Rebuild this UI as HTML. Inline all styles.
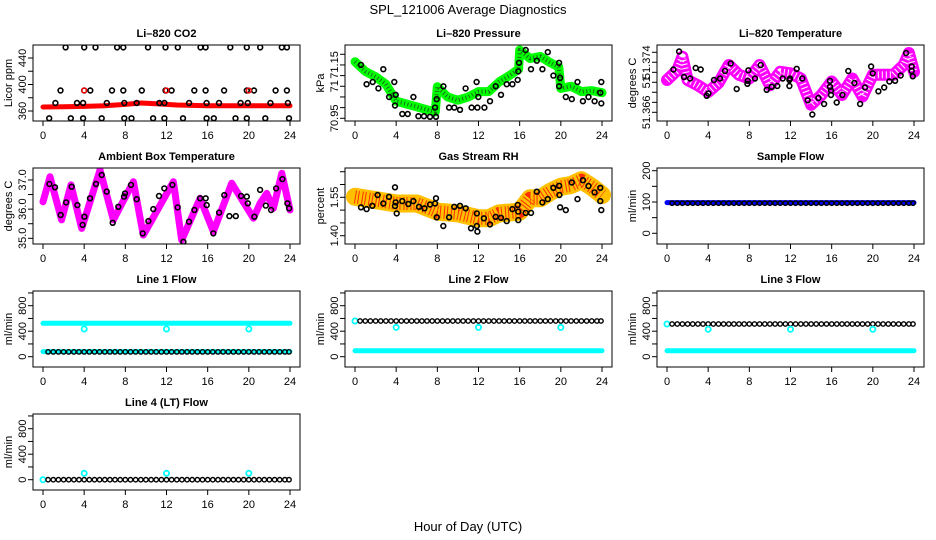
<!DOCTYPE html>
<html><head><meta charset="utf-8"><title>SPL_121006 Average Diagnostics</title>
<style>
html,body{margin:0;padding:0;background:#fff;}
svg{display:block;font-family:"Liberation Sans",Arial,sans-serif;}
</style></head>
<body>
<svg id="chart" xmlns="http://www.w3.org/2000/svg" width="936" height="540" viewBox="0 0 936 540">
<rect x="0" y="0" width="936" height="540" fill="#fff"/>
<text x="468" y="14" text-anchor="middle" font-size="13">SPL_121006  Average Diagnostics</text>
<text x="468" y="531" text-anchor="middle" font-size="13">Hour of Day (UTC)</text>
</svg>
<script>
// ---------- data ----------
const xTicks = [0,4,8,12,16,20,24];
const flowHours = [0.5,1,1.5,2,2.5,3,3.5,4,4.5,5,5.5,6,6.5,7,7.5,8,8.5,9,9.5,10,10.5,11,11.5,12,12.5,13,13.5,14,14.5,15,15.5,16,16.5,17,17.5,18,18.5,19,19.5,20,20.5,21,21.5,22,22.5,23,23.5,23.9];
const bandEnds = [0,24];
const dailyCheckHours = [4,12,20];

// Li-820 CO2
const co2BandH = [0,2,4,6,8,9.5,11,13,16,20,24];
const co2BandV = [366,366.5,367,368,370,372,371,369,368,368,368];
const co2PtH = [2.2,4.0,5.1,7.2,7.8,10.2,11.9,13.1,15.3,15.8,18.2,19.8,21.1,23.2,23.7,
 1.7,4.0,4.6,6.7,7.8,9.6,11.9,12.5,14.7,15.8,17.6,19.8,20.5,22.6,23.7,
 0.6,2.7,3.9,5.7,7.9,8.6,10.7,11.8,13.6,15.9,16.6,18.7,19.8,21.6,23.9,
 1.2,3.3,3.9,6.2,7.9,9.1,11.3,11.8,14.2,15.9,17.1,19.2,19.9,22.1,23.8];
const co2PtV = [456,456,456,456,456,456,456,456,456,456,456,456,456,456,456,
 391,391,391,391,391,391,391,391,391,391,391,391,391,391,391,
 349,349,349,349,349,349,349,349,349,349,349,349,349,349,349,
 372,372,372,372,372,372,372,372,372,372,372,372,372,372,372];
const co2RedH = [4,12,20];
const co2RedV = [391,391,391];

// Li-820 Pressure
const presBandH = [0,1,2,3,4,5,6,7,7.8,8,9,10,11,12,13,14,15,15.9,16,17,18,19,19.8,20,21,22,23,24];
const presBandV = [71.215,71.17,71.145,71.11,71.03,71.017,71.004,70.99,70.98,71.098,71.05,71.035,71.05,71.075,71.075,71.12,71.15,71.18,71.27,71.23,71.24,71.21,71.19,71.09,71.1,71.075,71.08,71.07];
const presPtH = [0.58,1.13,1.72,2.27,2.75,3.31,3.82,3.95,3.89,4.6,5.12,5.67,6.16,6.7,7.29,7.77,7.87,7.94,8.59,9.14,9.65,10.2,10.75,11.33,11.82,11.89,11.98,12.57,13.12,13.67,14.19,14.74,15.29,15.81,15.87,15.94,16.59,17.1,17.66,18.21,18.73,19.28,19.83,19.83,19.93,20.48,21.07,21.62,22.14,22.69,23.28,23.83,23.93,23.93];
const presPtV = [71.20,71.11,71.12,71.09,71.18,71.05,71.12,71.06,71.01,70.97,70.97,71.05,70.96,70.96,70.957,71.0,70.957,71.04,71.10,71.0,71.0,70.99,71.09,71.0,71.12,71.0,71.05,71.0,71.03,71.10,71.06,71.11,71.11,71.13,71.17,71.21,71.27,71.18,71.22,71.18,71.26,71.15,71.21,71.10,71.14,71.05,71.04,71.12,71.03,71.05,71.03,71.07,71.12,71.02];

// Li-820 Temperature
const tempBandH = [0,1,1.5,2,3,4,5,6,7,8,9,10,11,12,13,14,15,16,17,18,19,20,21,22,23,23.5,24];
const tempBandV = [51.3703,51.3716,51.3734,51.3703,51.3696,51.3687,51.3699,51.3723,51.3710,51.3705,51.3723,51.3696,51.3714,51.3712,51.3705,51.3670,51.3683,51.3701,51.3683,51.3705,51.3681,51.3710,51.3710,51.3710,51.3723,51.3739,51.3714];
const tempPtH = [0.62,1.18,1.65,2.24,2.79,3.27,3.86,4.02,4.57,5.15,5.64,6.19,6.77,7.81,7.84,7.91,8.55,9.1,9.69,10.17,10.72,11.24,11.89,11.89,11.95,12.6,13.15,13.67,14.12,14.71,15.26,15.84,15.84,15.94,15.94,16.49,17.04,17.62,18.21,18.76,19.24,19.83,19.99,20.54,21.1,21.61,22.16,22.71,23.23,23.78,23.78,23.88];
const tempPtV = [51.3717,51.3741,51.3707,51.3705,51.3719,51.3717,51.3682,51.3685,51.3703,51.3705,51.3715,51.3725,51.3691,51.3698,51.3702,51.3716,51.3705,51.3723,51.3690,51.3694,51.3695,51.3705,51.3703,51.3695,51.3705,51.3718,51.3705,51.3676,51.3657,51.3679,51.3671,51.3702,51.3694,51.3689,51.3683,51.3673,51.3683,51.3715,51.3699,51.3671,51.3693,51.3721,51.3712,51.3688,51.3693,51.3701,51.3702,51.3709,51.3739,51.3721,51.3715,51.3708];

// Ambient Box Temperature
const ambBandH = [0,0.68,1.81,2.72,3.76,5.54,6.84,8.78,9.75,12.67,13.48,15.26,16.56,18.34,20.44,21.09,21.74,22.39,23.2,24];
const ambBandV = [36.25,37.11,35.63,36.83,35.34,37.34,35.63,36.94,35.11,36.94,34.94,36.37,35.23,36.89,35.69,36.2,36.54,36.03,37.23,35.97];
const ambPtH = [0.62,1.17,1.72,2.24,2.79,3.34,3.85,4.02,4.57,5.15,5.7,6.19,6.77,7.32,7.87,7.97,8.55,9.1,9.69,10.24,10.72,11.27,11.79,12.57,13.09,13.64,14.19,14.71,15.26,15.81,15.91,16.55,17.11,17.62,18.11,18.73,19.25,19.8,19.9,20.54,21.09,21.65,22.16,22.65,23.26,23.75,23.91];
const ambPtV = [36.86,36.75,35.8,36.23,36.77,36.14,35.46,35.74,36.37,36.86,37.17,36.6,35.53,36.08,36.43,36.54,36.83,36.34,35.17,35.59,36.0,36.45,36.71,36.83,36.06,34.88,35.57,35.97,36.37,36.37,36.14,35.17,35.88,36.48,35.76,35.76,36.45,36.43,36.2,35.74,36.66,36.12,35.97,36.71,37.03,36.2,36.03];

// Gas Stream RH
const rhBandH = [0,2,4,6,8,10,12,13,14,16,17,18,19,20,21,22,23,24];
const rhBandV = [1.552,1.539,1.526,1.526,1.494,1.487,1.468,1.468,1.487,1.494,1.546,1.546,1.572,1.591,1.598,1.617,1.591,1.559];
const rhPtH = [0.58,1.13,1.68,2.2,2.75,3.3,3.89,3.95,4.05,3.89,4.6,5.18,5.67,6.22,6.74,7.29,7.78,7.87,7.94,8.58,9.14,9.65,10.2,10.76,11.27,11.83,11.83,11.89,12.52,13.12,13.67,14.19,14.74,15.29,15.81,15.87,15.87,16.59,17.1,17.66,18.21,18.73,19.28,19.83,19.86,19.93,20.48,21.07,21.62,22.14,22.69,23.28,23.83,23.83,23.93];
const rhPtV = [1.511,1.504,1.517,1.559,1.526,1.552,1.516,1.53,1.487,1.589,1.535,1.524,1.535,1.513,1.507,1.522,1.526,1.546,1.472,1.438,1.472,1.513,1.517,1.507,1.429,1.487,1.438,1.416,1.468,1.444,1.474,1.47,1.457,1.504,1.52,1.494,1.461,1.489,1.489,1.572,1.53,1.543,1.587,1.595,1.559,1.511,1.5,1.608,1.543,1.617,1.594,1.569,1.587,1.535,1.5];

// Sample Flow
const sampleBandV = [98,98];
const sampleLevel = 96;

// Line flows
const line1Upper = [524,524];
const line1Lower = [80,80];
const line1Black = 75;
const line1Check = 434;
const line2Band = [94,94];
const line2Black = 560;
const line2Start = 560;
const line2Check = 460;
const line3Band = [94,94];
const line3Black = 513;
const line3Start = 513;
const line3Check = 430;
const line4Black = 0;
const line4Start = 0;
const line4Check = 100;

// ---------- helpers ----------
const NS = "http://www.w3.org/2000/svg";
const svg = document.getElementById("chart");
function mk(tag, attrs, parent){
  const el = document.createElementNS(NS, tag);
  for (const k in attrs) el.setAttribute(k, attrs[k]);
  (parent || svg).appendChild(el);
  return el;
}
function panelGeom(col,row){
  const left = 33 + 312*col, top = 45 + 123*row;
  return {left:left, right:left+267, top:top, bottom:top+76, x0:left+10};
}
function makeX(g){ return h => g.x0 + h*247/24; }
function makeY(g, lo, hi){ return v => g.bottom - (v-lo)/(hi-lo)*(g.bottom-g.top); }

function drawPanel(key, col, row, title, ytitle, lo, hi, yTickVals, yTickLabels){
  const g = panelGeom(col,row);
  const grp = mk("g", {});
  
  
  const X = makeX(g), Y = makeY(g, lo, hi);
  const t = mk("text", {x:(g.left+g.right)/2, y:g.top-8, "text-anchor":"middle", "font-size":"11", "font-weight":"bold"}, grp);
  t.textContent = title;
  
  
  const yt = mk("text", {x:0, y:0, "text-anchor":"middle", "font-size":"11", transform:"translate("+(g.left-21)+","+((g.top+g.bottom)/2)+") rotate(-90)"}, grp);
  yt.textContent = ytitle;
  
  
  const box = mk("rect", {x:g.left, y:g.top, width:g.right-g.left, height:g.bottom-g.top, fill:"none", stroke:"#000", "stroke-width":"1"}, grp);
  
  
  const xa = mk("g", {}, grp);
  
  
  xTicks.forEach(function(h){
    const tk = mk("line", {x1:X(h), x2:X(h), y1:g.bottom, y2:g.bottom+5, stroke:"#000"}, xa);
    
    
    const lb = mk("text", {x:X(h), y:g.bottom+18, "text-anchor":"middle", "font-size":"11"}, xa);
    lb.textContent = String(h);
    
    
  });
  const ya = mk("g", {}, grp);
  
  
  yTickVals.forEach(function(v,i){
    const yy = Y(v);
    const tk = mk("line", {x1:g.left-5, x2:g.left, y1:yy, y2:yy, stroke:"#000"}, ya);
    
    
    if (yTickLabels[i]) {
      const lb = mk("text", {x:0, y:0, "text-anchor":"middle", "font-size":"11", transform:"translate("+(g.left-7)+","+yy+") rotate(-90)"}, ya);
      lb.textContent = yTickLabels[i];
      
      
    }
  });
  const clip = mk("clipPath", {id:"clip-"+key}, grp);
  mk("rect", {x:g.left+0.5, y:g.top+0.5, width:g.right-g.left-1, height:g.bottom-g.top-1}, clip);
  const plot = mk("g", {"clip-path":"url(#clip-"+key+")"}, grp);
  
  
  return {X:X, Y:Y, plot:plot, key:key};
}
function band(p, hs, vs, color, width, name, dotColor, dash){
  const pts = hs.map(function(h,i){ return p.X(h).toFixed(1)+","+p.Y(vs[i]).toFixed(1); }).join(" ");
  const pl = mk("polyline", {points:pts, fill:"none", stroke:color, "stroke-width":width, "stroke-linejoin":"round", "stroke-linecap":"round"}, p.plot);
  
  
  if (dotColor) {
    const d = mk("polyline", {points:pts, fill:"none", stroke:dotColor, "stroke-width":Math.max(1,width-5), "stroke-dasharray":dash||"1 2", "stroke-linejoin":"round"}, p.plot);
    
    
  }
}
function points(p, hs, vs, color, name, r, sw){
  const gg = mk("g", {}, p.plot);
  
  
  hs.forEach(function(h,i){
    const c = mk("circle", {cx:p.X(h).toFixed(1), cy:p.Y(vs[i]).toFixed(1), r:r||2.4, fill:"none", stroke:color, "stroke-width":sw||1.6}, gg);
    
    
  });
}
function level(hs, v){ return hs.map(function(){ return v; }); }

// ---------- panels ----------
let p;
p = drawPanel("co2",0,0,"Li\u2013820 CO2","Licor ppm",344.9,459.6,[360,380,400,420,440],["360","","400","","440"]);
band(p, co2BandH, co2BandV, "#ff0000", 5, "co2-band");
points(p, co2PtH, co2PtV, "#000", "co2-hourly");
points(p, co2RedH, co2RedV, "#ff0000", "co2-check", 2.4, 1.4);

p = drawPanel("pressure",1,0,"Li\u2013820 Pressure","kPa",70.9373,71.2935,[70.95,71.0,71.05,71.1,71.15,71.2,71.25],["70.95","","","71","","71.15",""]);
band(p, presBandH, presBandV, "#00ff00", 9, "pressure-band", "#1a6b1a", "1 2.5");
points(p, presPtH, presPtV, "#000", "pressure-hourly");

p = drawPanel("temperature",2,0,"Li\u2013820 Temperature","degrees C",51.36484,51.37497,[51.366,51.36733,51.36867,51.37,51.37133,51.37267,51.374],["51.366","","","51","","51.374",""]);
band(p, tempBandH, tempBandV, "#ff00ff", 12, "temperature-band", "#ffffff", "1 3");
points(p, tempPtH, tempPtV, "#000", "temperature-hourly");

p = drawPanel("ambient",0,1,"Ambient Box Temperature","degrees C",34.805,37.41,[35,35.5,36,36.5,37],["35.0","","36.0","","37.0"]);
band(p, ambBandH, ambBandV, "#ff00ff", 7, "ambient-band");
points(p, ambPtH, ambPtV, "#000", "ambient-hourly");

p = drawPanel("rh",1,1,"Gas Stream RH","percent",1.3676,1.6645,[1.40,1.45,1.50,1.55,1.60,1.65],["1.40","","","1.55","",""]);
band(p, rhBandH, rhBandV, "#ffc000", 18, "rh-band", "#ff3000", "1 2 1 3");
points(p, rhPtH, rhPtV, "#000", "rh-hourly");

p = drawPanel("sample",2,1,"Sample Flow","ml/min",-34.2,208.6,[0,50,100,150,200],["0","","100","","200"]);
band(p, bandEnds, sampleBandV, "#0000ff", 5, "sample-band");
points(p, flowHours, level(flowHours, sampleLevel), "#000", "sample-hourly", 2.2, 1.4);

const flowTicks = [0,200,400,600,800,1000];
const flowLabels = ["0","","400","","800",""];
p = drawPanel("line1",0,2,"Line 1 Flow","ml/min",-161.6,1030.6,flowTicks,flowLabels);
band(p, bandEnds, line1Upper, "#00ffff", 5, "line1-upper-band");
band(p, bandEnds, line1Lower, "#00ffff", 5, "line1-lower-band");
points(p, flowHours, level(flowHours, line1Black), "#000", "line1-hourly", 2.2, 1.4);
points(p, dailyCheckHours, level(dailyCheckHours, line1Check), "#00ffff", "line1-check", 2.6, 1.8);

p = drawPanel("line2",1,2,"Line 2 Flow","ml/min",-161.6,1030.6,flowTicks,flowLabels);
band(p, bandEnds, line2Band, "#00ffff", 5, "line2-band");
points(p, [0], [line2Start], "#00ffff", "line2-start", 2.6, 1.8);
points(p, flowHours, level(flowHours, line2Black), "#000", "line2-hourly", 2.2, 1.4);
points(p, dailyCheckHours, level(dailyCheckHours, line2Check), "#00ffff", "line2-check", 2.6, 1.8);

p = drawPanel("line3",2,2,"Line 3 Flow","ml/min",-161.6,1030.6,flowTicks,flowLabels);
band(p, bandEnds, line3Band, "#00ffff", 5, "line3-band");
points(p, [0], [line3Start], "#00ffff", "line3-start", 2.6, 1.8);
points(p, flowHours, level(flowHours, line3Black), "#000", "line3-hourly", 2.2, 1.4);
points(p, dailyCheckHours, level(dailyCheckHours, line3Check), "#00ffff", "line3-check", 2.6, 1.8);

p = drawPanel("line4",0,3,"Line 4 (LT) Flow","ml/min",-161.6,1030.6,flowTicks,flowLabels);
points(p, [0], [line4Start], "#00ffff", "line4-start", 2.6, 1.8);
points(p, flowHours, level(flowHours, line4Black), "#000", "line4-hourly", 2.2, 1.4);
points(p, dailyCheckHours, level(dailyCheckHours, line4Check), "#00ffff", "line4-check", 2.6, 1.8);
</script>
</body></html>
